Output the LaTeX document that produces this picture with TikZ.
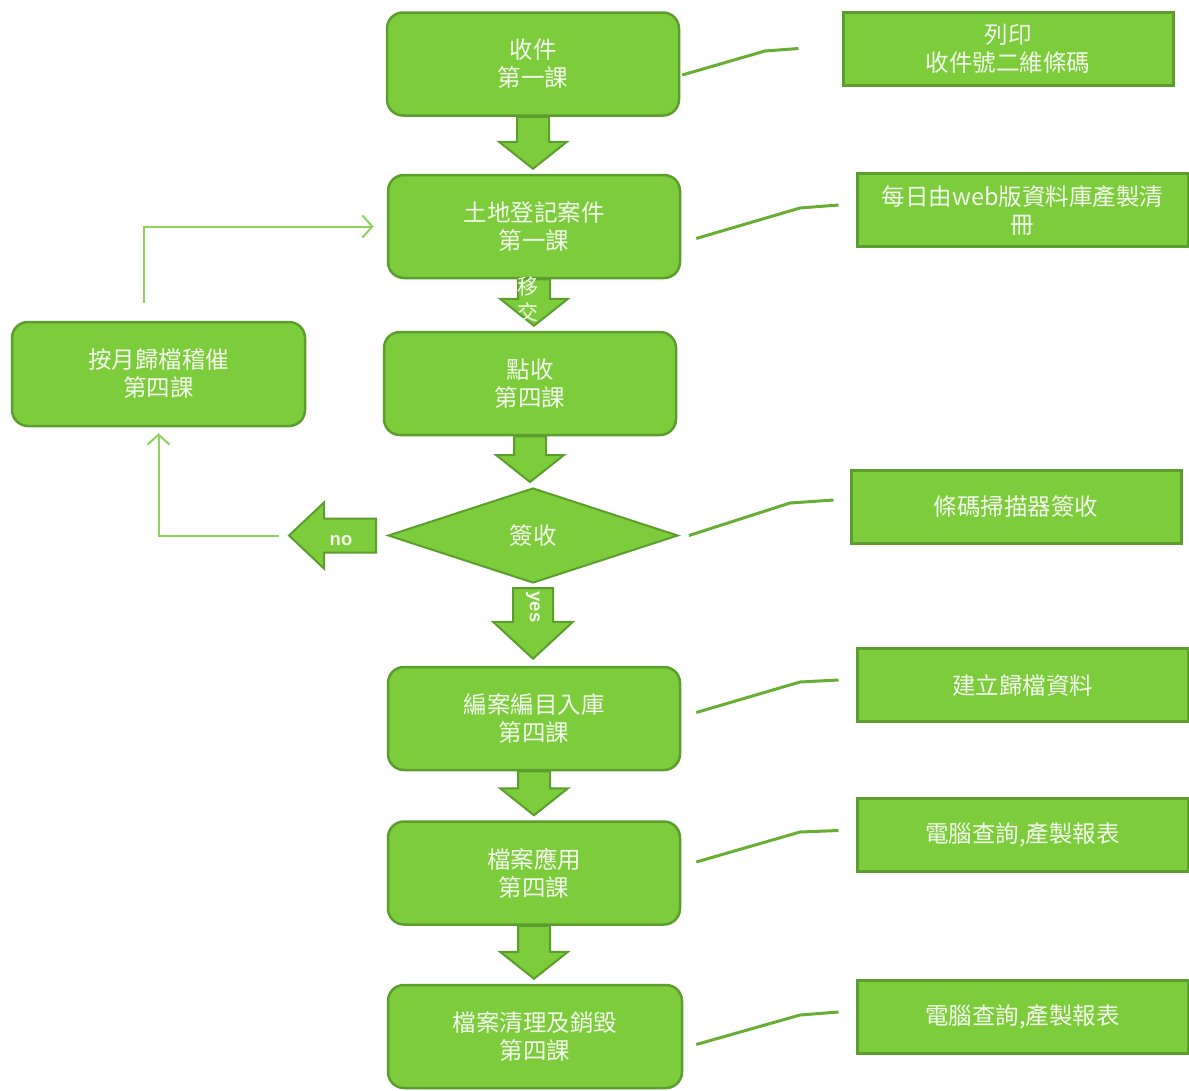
\documentclass[tikz,border=0pt]{standalone}
\usepackage{fontspec}
\newfontfamily\cjk{Noto Sans CJK TC}
\newfontfamily\latin{Liberation Sans}
\usetikzlibrary{shapes.geometric, calc, arrows.meta}

\definecolor{boxgreen}{RGB}{125,204,60}
\definecolor{edgegreen}{RGB}{92,158,46}
\definecolor{linegreen}{RGB}{104,174,52}
\definecolor{thingreen}{RGB}{140,212,92}
\definecolor{txtwhite}{RGB}{242,249,236}

% block arrow pointing down: #1 from, #2 to, #3 half shaft, #4 half head
\newcommand{\blockdown}[4]{%
  \draw[blockarr] ($(#1)+(-#3,0)$) -- ($(#1)+(#3,0)$) -- ($(#1|-#2)+(#3,-32)$)
    -- ($(#1|-#2)+(#4,-32)$) -- ($(#1|-#2)+(0,-5)$) -- ($(#1|-#2)+(-#4,-32)$)
    -- ($(#1|-#2)+(-#3,-32)$) -- cycle;}

\begin{document}
\begin{tikzpicture}[x=1pt, y=-1pt,
  every node/.style={text=txtwhite, font=\cjk\fontsize{23.5}{28}\selectfont, align=center},
  stepbox/.style={draw=edgegreen, line width=2.5pt, fill=boxgreen, rounded corners=16pt,
    minimum width=292pt, minimum height=103pt, inner sep=0pt},
  notebox/.style={draw=edgegreen, line width=3pt, fill=boxgreen,
    minimum width=330pt, minimum height=73pt, inner sep=0pt},
  blockarr/.style={draw=edgegreen, line width=2pt, fill=boxgreen, line join=miter},
  callout/.style={draw=linegreen, line width=3pt},
  backline/.style={draw=thingreen, line width=2pt, -{Straight Barb[length=10pt, width=22pt, line width=2pt]}},
  tag/.style={font=\latin\bfseries\fontsize{18.5}{22}\selectfont}]

        % page size of the reference
        \useasboundingbox (0,0) rectangle (1189,1090);

        % main column
        \node[stepbox] (b1) at (533,64) {收件\\第一課};
        \node[stepbox] (b2) at (534,226.5) {土地登記案件\\第一課};
        \node[stepbox] (b3) at (530,383.5) {點收\\第四課};
        \node[diamond, draw=edgegreen, line width=2pt, fill=boxgreen, minimum width=290pt,
              minimum height=95pt, inner sep=0pt] (d1) at (533,535.5) {簽收};
        \node[stepbox] (b4) at (534,718.5) {編案編目入庫\\第四課};
        \node[stepbox] (b5) at (534,873) {檔案應用\\第四課};
        \node[stepbox, minimum width=294pt] (b6) at (535,1036.5) {檔案清理及銷毀\\第四課};

        % side box for reminders
        \node[stepbox, minimum width=293pt, minimum height=104pt] (bl) at (158.5,374) {按月歸檔稽催\\第四課};

        % notes on the right
        \node[notebox] (r1) at (1008,48.5) {列印\\收件號二維條碼};
        \node[notebox, minimum width=331pt] (r2) at (1022.5,210) {每日由web版資料庫產製清\\冊};
        \node[notebox] (r3) at (1016,507) {條碼掃描器簽收};
        \node[notebox, minimum width=331pt] (r4) at (1022.5,685) {建立歸檔資料};
        \node[notebox, minimum width=331pt] (r5) at (1022.5,834.5) {電腦查詢,產製報表};
        \node[notebox, minimum width=331pt] (r6) at (1022.5,1017) {電腦查詢,產製報表};

        % block arrows down the column
        \blockdown{b1.south}{b2.north}{16}{34}
        \blockdown{b2.south}{b3.north}{16}{34}
        \blockdown{b3.south}{d1.north}{16}{34}
        \blockdown{b4.south}{b5.north}{16}{34}
        \blockdown{b5.south}{b6.north}{16}{34}
        \node[font=\cjk\fontsize{21}{26}\selectfont] (handover) at (528,300) {移\\交};

        % yes arrow
        \draw[blockarr] ($(d1.south)+(-20,4)$) -- ($(d1.south)+(20,4)$)
            -- ($(d1.south|-b4.north)+(20,-44)$) -- ($(d1.south|-b4.north)+(40,-44)$)
            -- ($(d1.south|-b4.north)+(0,-7)$) -- ($(d1.south|-b4.north)+(-40,-44)$)
            -- ($(d1.south|-b4.north)+(-20,-44)$) -- cycle;
        \node[tag, rotate=-90] (yes) at (533,607) {yes};

        % no arrow
        \coordinate (notip) at ($(d1.west)+(-98,0)$);
        \draw[blockarr] ([xshift=-11pt,yshift=17pt]d1.west) -- ([xshift=-11pt,yshift=-17pt]d1.west)
            -- ([xshift=35pt,yshift=-17pt]notip) -- ([xshift=35pt,yshift=-33pt]notip)
            -- (notip) -- ([xshift=35pt,yshift=33pt]notip) -- ([xshift=35pt,yshift=17pt]notip) -- cycle;
        \node[tag] (no) at (341,541) {no};

        % loop back through the reminder box
        \draw[backline] ([xshift=-10pt]notip) -| ([yshift=-6pt]bl.south);
        \draw[backline] ([xshift=-15pt,yshift=18pt]bl.north) |- ([xshift=-13pt]b2.west);

        % callout lines to the notes
        \draw[callout] ([shift={(2,11)}]b1.east) -- (765,51) -- ([xshift=-43pt]r1.west);
        \draw[callout] ([shift={(15,12)}]b2.east) -- (800,208) -- ([xshift=-17pt,yshift=5pt]r2.west);
        \draw[callout] ([xshift=10pt]d1.east) -- (790,503) -- ([xshift=-16pt,yshift=7pt]r3.west);
        \draw[callout] ([shift={(15,-6)}]b4.east) -- (800,682) -- ([xshift=-17pt,yshift=5pt]r4.west);
        \draw[callout] ([shift={(15,-11)}]b5.east) -- (800,832) -- ([xshift=-17pt,yshift=4pt]r5.west);
        \draw[callout] ([shift={(13,8)}]b6.east) -- (800,1015) -- ([xshift=-17pt,yshift=5pt]r6.west);

\end{tikzpicture}
\end{document}
